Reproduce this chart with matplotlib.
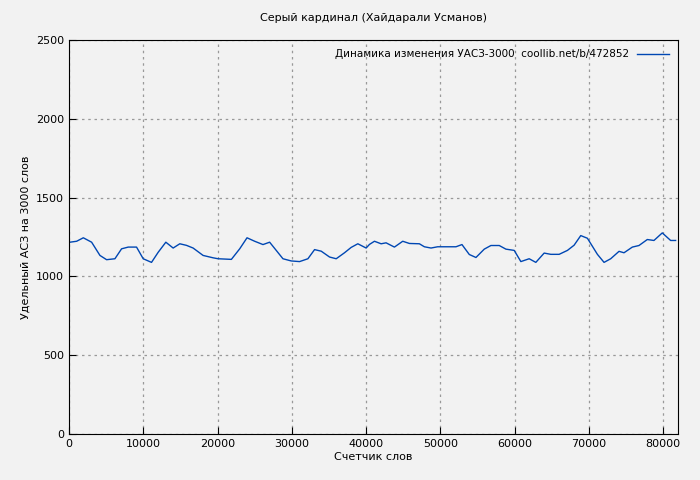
import matplotlib
matplotlib.use("Agg")
import matplotlib.pyplot as plt

words = [134,1030,1926,3046,4167,5063,6183,7079,7975,9095,9991,11111,12007,13038,14023,14919,15815,16711,18056,19400,20072,21864,22984,23970,25000,26120,27016,28808,29928,31048,32168,33065,33961,35081,35977,37097,37993,38889,40009,40457,41129,42025,42697,43817,44937,45833,47177,47849,48745,49641,52105,52912,53898,54794,55914,56810,57930,58826,59946,60842,61962,62858,63978,64874,65995,67115,68011,68907,69803,71147,72043,72939,74059,74731,75851,76747,77867,78763,79883,81008,81680]
usas = [1217,1223,1245,1217,1133,1106,1112,1175,1186,1186,1112,1089,1153,1217,1180,1207,1197,1180,1133,1118,1112,1108,1175,1245,1223,1202,1217,1112,1098,1094,1112,1170,1160,1123,1112,1150,1184,1207,1180,1203,1223,1207,1213,1186,1223,1209,1207,1188,1180,1188,1188,1202,1139,1120,1173,1196,1196,1173,1165,1094,1112,1089,1148,1140,1140,1165,1198,1259,1242,1140,1089,1112,1159,1150,1186,1196,1234,1228,1276,1228,1228]
xticks = [0,10000,20000,30000,40000,50000,60000,70000,80000]
yticks = [0,500,1000,1500,2000,2500]

plt.rcParams['font.family'] = ['DejaVu Sans']
fig = plt.figure(figsize=(7,4.8), dpi=100, facecolor='#f2f2f2')
ax = fig.add_axes([69/700, 46/480, 609/700, 394/480], facecolor='#f2f2f2')
ax.plot(words, usas, color='#0047b3', lw=1, label='Динамика изменения УАСЗ-3000  coollib.net/b/472852')
ax.set_xlim(0, 82000)
ax.set_ylim(0, 2500)
ax.set_xticks(xticks)
ax.set_yticks(yticks)
ax.tick_params(labelsize=8, direction='in', length=5, top=False, right=False)
ax.grid(True, color='#999999', linestyle=(0,(2,3)), lw=0.9)
for s in ax.spines.values():
    s.set_color('black')
ax.set_title('Серый кардинал (Хайдарали Усманов)', fontsize=8, pad=14)
ax.set_xlabel('Счетчик слов', fontsize=8, labelpad=2)
ax.set_ylabel('Удельный АСЗ на 3000 слов', fontsize=8)
leg = ax.legend(loc='upper right', fontsize=7.5, frameon=False, markerfirst=False, handlelength=3)
fig.savefig('out.png', dpi=100, facecolor=fig.get_facecolor())
